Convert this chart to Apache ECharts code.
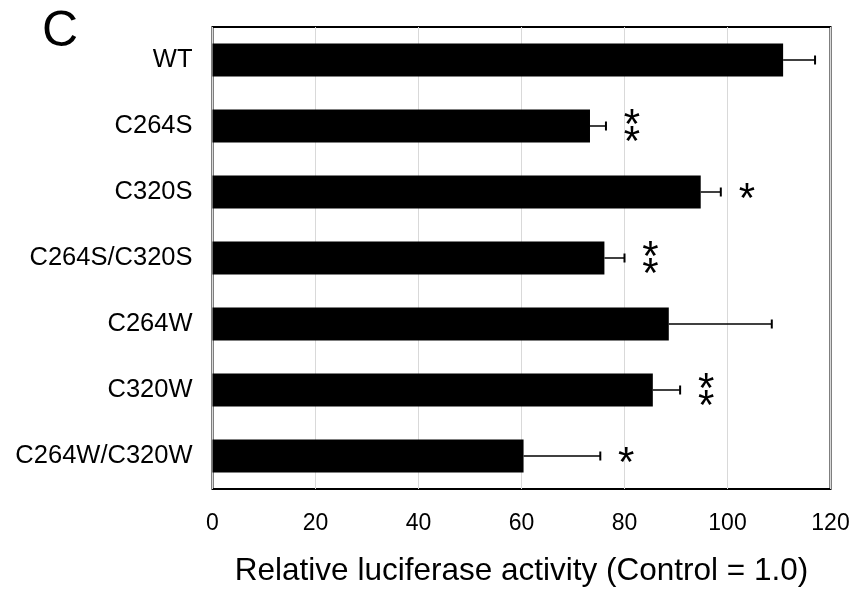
<!DOCTYPE html>
<html><head><meta charset="utf-8">
<script src="https://cdn.jsdelivr.net/npm/echarts@6/dist/echarts.min.js"></script>
<style>html,body{margin:0;padding:0;background:#fff}#c{width:859px;height:592px}</style>
</head><body><div id="c"></div>
<script>
const categories = ["WT","C264S","C320S","C264S/C320S","C264W","C320W","C264W/C320W"];
const values = [110.8, 73.3, 94.8, 76.1, 88.6, 85.5, 60.4];
const errors = [6.2, 3.1, 3.9, 3.9, 20.0, 5.3, 14.9];
const significance = ["", "**", "*", "**", "", "**", "*"];
const xTicks = [0, 20, 40, 60, 80, 100, 120];

const FONT = '"Liberation Sans", Arial, Helvetica, sans-serif';
const chart = echarts.init(document.getElementById('c'));
const errData = categories.map((c, i) => [i, values[i], errors[i]]);

chart.setOption({
  animation: false,
  backgroundColor: '#fff',
  title: { text: 'C', left: 37, top: 2, textStyle: { fontFamily: FONT, fontSize: 50, fontWeight: 'normal', color: '#000' } },
  grid: { left: 212.5, right: 28.5, top: 27, bottom: 99, show: true, borderColor: '#000', borderWidth: 2, backgroundColor: 'transparent' },
  xAxis: {
    type: 'value', min: xTicks[0], max: xTicks[xTicks.length - 1], interval: 20,
    axisLine: { show: false }, axisTick: { show: false },
    splitLine: { show: true, lineStyle: { color: '#d9d9d9', width: 1 } },
    axisLabel: { fontFamily: FONT, fontSize: 23, color: '#000', margin: 23 },
    name: 'Relative luciferase activity (Control = 1.0)', nameLocation: 'middle', nameGap: 66,
    nameTextStyle: { fontFamily: FONT, fontSize: 31.5, color: '#000' }
  },
  yAxis: {
    type: 'category', data: categories, inverse: true,
    axisLine: { show: false }, axisTick: { show: false },
    axisLabel: { fontFamily: FONT, fontSize: 25.5, color: '#000', margin: 20 }
  },
  series: [
    { type: 'bar', data: values, barCategoryGap: '50%', itemStyle: { color: '#000' }, z: 2 },
    {
      type: 'custom', data: errData, z: 3,
      renderItem: function (params, api) {
        const i = api.value(0), v = api.value(1), e = api.value(2);
        const sig = significance[i];
        const p0 = api.coord([v, i]);
        const p1 = api.coord([v + e, i]);
        const cap = 4.5;
        const children = [
          { type: 'line', shape: { x1: p0[0], y1: p0[1], x2: p1[0], y2: p1[1] }, style: { stroke: '#000', lineWidth: 1.5 } },
          { type: 'line', shape: { x1: p1[0], y1: p1[1] - cap, x2: p1[0], y2: p1[1] + cap }, style: { stroke: '#000', lineWidth: 2 } }
        ];
        const n = sig.length;
        for (let k = 0; k < n; k++) {
          const dy = n === 1 ? 0 : (k === 0 ? -8.5 : 8.5);
          children.push({ type: 'text', style: { text: '*', x: p1[0] + 26, y: p1[1] + dy + 8.5, fontFamily: FONT, fontSize: 42, fill: '#000', align: 'center', verticalAlign: 'middle' } });
        }
        return { type: 'group', children: children };
      }
    }
  ]
});
</script></body></html>
